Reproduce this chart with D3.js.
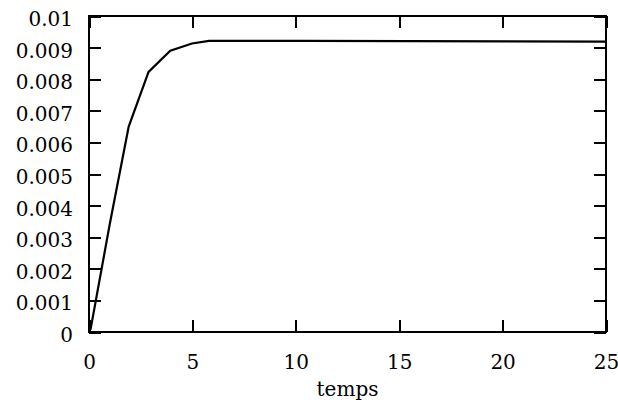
<!DOCTYPE html>
<html><head><meta charset="utf-8">
<script src="https://cdn.jsdelivr.net/npm/d3@7"></script>
<style>body{margin:0;background:#fff}svg{display:block}</style>
</head><body>
<svg id="c" width="618" height="400"></svg>
<script>
const tValues = [0, 0.08, 1.0, 1.92, 2.88, 3.93, 4.98, 5.8, 10.5, 25];
const yValues = [0, 0.0001, 0.0034, 0.0065, 0.00823, 0.0089, 0.00913, 0.00921, 0.00921, 0.00919];
const xTicks = [0, 5, 10, 15, 20, 25];
const yTicks = [0, 0.001, 0.002, 0.003, 0.004, 0.005, 0.006, 0.007, 0.008, 0.009, 0.01];
const yTickLabels = ["0", "0.001", "0.002", "0.003", "0.004", "0.005", "0.006", "0.007", "0.008", "0.009", "0.01"];
const xLabel = "temps";

const svg = d3.select("#c");
const L = 89, R = 606, T = 16, B = 332;
const x = d3.scaleLinear().domain([0, 25]).range([L, R]);
const y = d3.scaleLinear().domain([0, 0.01]).range([B, T]);
const font = "'DejaVu Serif', serif";

function styleAxis(g) {
  g.select(".domain").remove();
  g.selectAll(".tick line").attr("stroke", "#000").attr("stroke-width", 2)
    .attr("shape-rendering", "crispEdges");
}

const gb = svg.append("g").attr("transform", `translate(0,${B})`)
  .call(d3.axisBottom(x).tickValues(xTicks).tickSize(-12).tickFormat(d3.format("d")));
styleAxis(gb);
gb.selectAll(".tick text").attr("y", 37).attr("dy", null)
  .attr("font-family", font).attr("font-size", 20).attr("fill", "#000");
const gt = svg.append("g").attr("transform", `translate(0,${T})`)
  .call(d3.axisTop(x).tickValues(xTicks).tickSize(-12).tickFormat(""));
styleAxis(gt);
const gl = svg.append("g").attr("transform", `translate(${L},0)`)
  .call(d3.axisLeft(y).tickValues(yTicks).tickSize(-12).tickFormat((d, i) => yTickLabels[i]));
styleAxis(gl);
gl.selectAll(".tick text").attr("x", -16).attr("dy", null).attr("y", 9.5)
  .attr("font-family", font).attr("font-size", 20).attr("fill", "#000");
const gr = svg.append("g").attr("transform", `translate(${R},0)`)
  .call(d3.axisRight(y).tickValues(yTicks).tickSize(-12).tickFormat(""));
styleAxis(gr);

svg.append("rect").attr("x", L).attr("y", T).attr("width", R - L).attr("height", B - T)
  .attr("fill", "none").attr("stroke", "#000").attr("stroke-width", 2)
  .attr("shape-rendering", "crispEdges");

const data = tValues.map((t, i) => [t, yValues[i]]);
svg.append("path").datum(data)
  .attr("d", d3.line().x(d => x(d[0])).y(d => y(d[1])))
  .attr("fill", "none").attr("stroke", "#000").attr("stroke-width", 2.2);

svg.append("text").attr("x", (L + R) / 2).attr("y", 396).attr("text-anchor", "middle")
  .attr("font-family", font).attr("font-size", 20).attr("fill", "#000").text(xLabel);
</script>
</body></html>
